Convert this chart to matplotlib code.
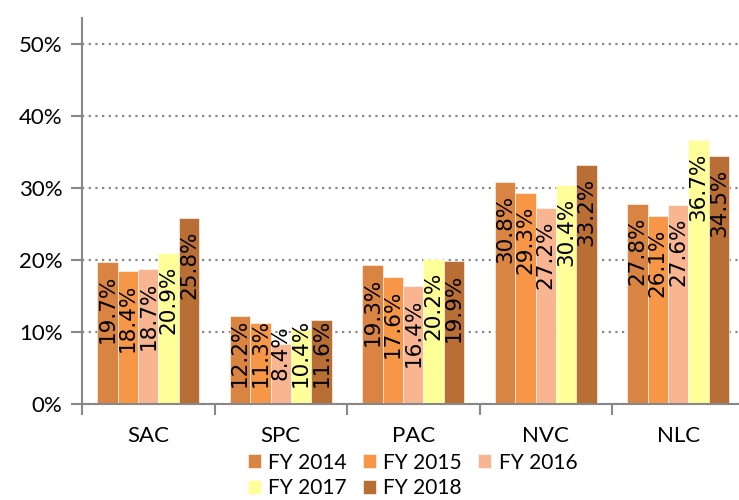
import matplotlib
matplotlib.use("Agg")
import matplotlib.pyplot as plt
import numpy as np

# categories and series
categories = ["SAC", "SPC", "PAC", "NVC", "NLC"]
years = ["FY 2014", "FY 2015", "FY 2016", "FY 2017", "FY 2018"]
fy2014 = [19.7, 12.2, 19.3, 30.8, 27.8]
fy2015 = [18.4, 11.3, 17.6, 29.3, 26.1]
fy2016 = [18.7, 8.4, 16.4, 27.2, 27.6]
fy2017 = [20.9, 10.4, 20.2, 30.4, 36.7]
fy2018 = [25.8, 11.6, 19.9, 33.2, 34.5]
series = [fy2014, fy2015, fy2016, fy2017, fy2018]

colors = ["#DA8443", "#F79646", "#F9B591", "#FFFF99", "#B86E34"]

fig = plt.figure(figsize=(7.39, 5), dpi=100)
ax = fig.add_axes([82 / 739, 96 / 500, 662.5 / 739, 386 / 500])

x = np.arange(len(categories))
w = 0.154
bars = []
for i, (vals, c, name) in enumerate(zip(series, colors, years)):
    xs = x + (i - 2) * w
    b = ax.bar(xs, vals, width=w, color=c, edgecolor="white", linewidth=0.4, label=name)
    bars.append(b)
    # value labels, rotated, sitting near the top of each bar
    for xi, v in zip(xs, vals):
        ax.text(xi, max(v - 6.5, 7.1), f"{v:.1f}%", rotation=90, ha="center", va="center",
                fontsize=15.5, family="DejaVu Sans", color="black")

ax.set_xlim(-0.5, 4.5)
ax.set_ylim(0, 53.6)

# y axis
ax.set_yticks([0, 10, 20, 30, 40, 50])
ax.set_yticklabels(["0%", "10%", "20%", "30%", "40%", "50%"], family="Lato", fontsize=16)
ax.yaxis.grid(True, linestyle=(0, (1, 2)), color="#888888", linewidth=1.6)
ax.set_axisbelow(True)

# x axis: ticks between categories, labels centered
ax.set_xticks(np.arange(-0.5, 5, 1))
ax.set_xticklabels([])
ax.set_xticks(x, minor=True)
ax.set_xticklabels(categories, minor=True, family="Lato", fontsize=16)
ax.tick_params(axis="x", which="minor", length=0, pad=16)
ax.tick_params(axis="x", which="major", length=8, color="#888888", width=1.5)
ax.tick_params(axis="y", length=8, color="#888888", width=1.5, pad=6)

for s in ["top", "right"]:
    ax.spines[s].set_visible(False)
for s in ["left", "bottom"]:
    ax.spines[s].set_color("#888888")
    ax.spines[s].set_linewidth(1.5)

# legend filled row by row: 2014 2015 2016 / 2017 2018
order = [0, 3, 1, 4, 2]
fig.legend([bars[k] for k in order], [years[k] for k in order],
           loc="lower left", bbox_to_anchor=(233 / 739, -0.025), ncol=3, frameon=False,
           prop={"family": "Lato", "size": 15}, handlelength=0.65, handleheight=0.65,
           handletextpad=0.35, columnspacing=0.75, labelspacing=0.25, borderpad=0.2)

fig.savefig("out.png", dpi=100)
